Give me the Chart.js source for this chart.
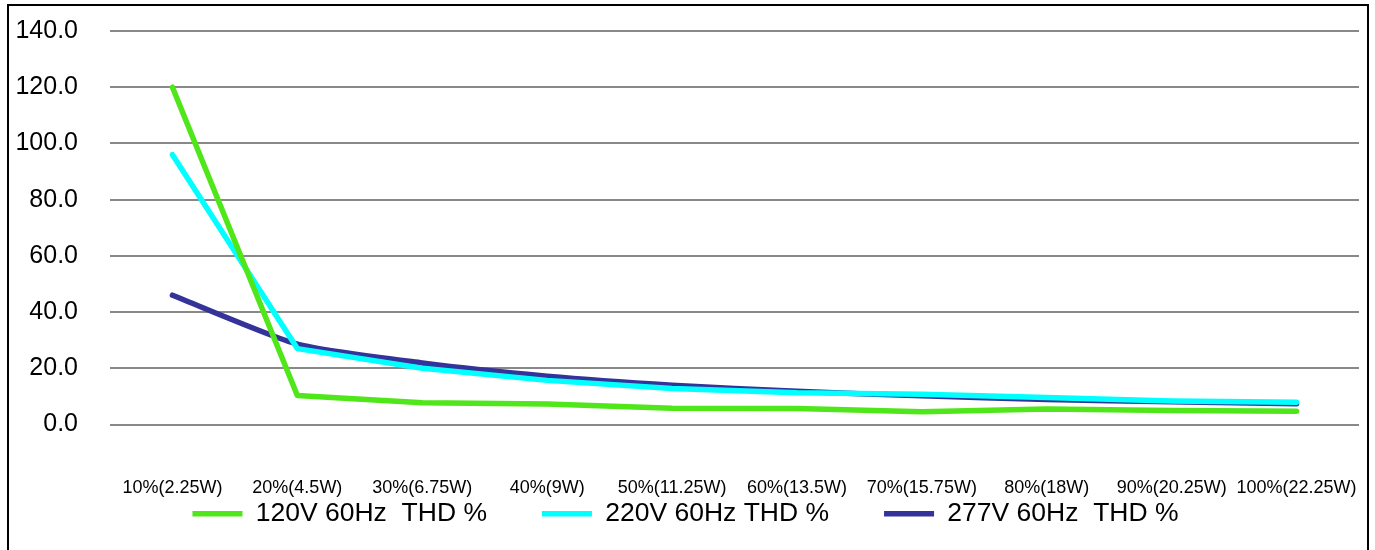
<!DOCTYPE html>
<html>
<head>
<meta charset="utf-8">
<script src="https://cdn.jsdelivr.net/npm/chart.js@4.4.1/dist/chart.umd.min.js"></script>
<style>
    html, body { margin: 0; padding: 0; background: #fff; }
    #frame {
        position: absolute; left: 7px; top: 4px;
        width: 1362px; height: 600px;
        box-sizing: border-box;
        border: 2px solid #000;
    }
    #wrap { position: absolute; left: 0; top: 0; width: 1375px; height: 550px; }
</style>
</head>
<body>
<div id="frame"></div>
<div id="wrap"><canvas id="thd-chart"></canvas></div>
<script>
// Load points (percent of rated power)
const loadLabels = ['10%(2.25W)', '20%(4.5W)', '30%(6.75W)', '40%(9W)', '50%(11.25W)',
    '60%(13.5W)', '70%(15.75W)', '80%(18W)', '90%(20.25W)', '100%(22.25W)'];

// THD %
const thd120 = [120.0, 10.3, 7.7, 7.3, 5.8, 5.7, 4.5, 5.5, 5.0, 4.7];
const thd220 = [96.0, 27.0, 20.0, 15.7, 12.8, 11.3, 10.8, 9.6, 8.4, 7.9];
const thd277 = [46.0, 28.6, 21.9, 17.2, 14.0, 11.8, 10.2, 8.9, 8.1, 7.4];

const FONT = '"Liberation Sans", Arial, sans-serif';

function lineSet(label, data, color, tension) {
    return {
        label: label,
        data: data,
        borderColor: color,
        backgroundColor: color,
        borderWidth: 5.5,
        borderCapStyle: 'round',
        borderJoinStyle: 'round',
        pointRadius: 0,
        tension: tension
    };
}

const ctx = document.getElementById('thd-chart').getContext('2d');
new Chart(ctx, {
    type: 'line',
    data: {
        labels: loadLabels,
        datasets: [
            lineSet('120V 60Hz  THD %', thd120, '#4FE61A', 0),
            lineSet('220V 60Hz THD %', thd220, '#00FFFF', 0),
            lineSet('277V 60Hz  THD %', thd277, '#333399', 0.2)
        ]
    },
    options: {
        responsive: true,
        maintainAspectRatio: false,
        animation: false,
        layout: {
            padding: { top: 31, right: 16, left: 12, bottom: 13 }
        },
        scales: {
            x: {
                offset: true,
                grid: { display: false, drawTicks: false },
                border: { display: false },
                ticks: {
                    color: '#000',
                    // mirrored with negative padding so the labels sit low without being clipped
                    mirror: true,
                    padding: -74,
                    maxRotation: 0,
                    autoSkip: false,
                    font: { family: FONT, size: 18 }
                },
                afterFit: scale => { scale.height = 21; }
            },
            y: {
                min: 0,
                max: 140,
                grid: { color: '#888888', lineWidth: 2, drawTicks: false },
                border: { display: false },
                ticks: {
                    stepSize: 20,
                    color: '#000',
                    padding: 32,
                    font: { family: FONT, size: 25 },
                    callback: v => v.toFixed(1)
                },
                afterFit: scale => {
                    scale.width = 98;
                    scale.paddingTop = 0;
                    scale.paddingBottom = 0;
                }
            }
        },
        plugins: {
            legend: {
                position: 'bottom',
                labels: {
                    color: '#000',
                    font: { family: FONT, size: 26.5 },
                    usePointStyle: true,
                    pointStyle: 'line',
                    pointStyleWidth: 50,
                    padding: 55
                }
            },
            tooltip: { enabled: false }
        }
    }
});
</script>
</body>
</html>
